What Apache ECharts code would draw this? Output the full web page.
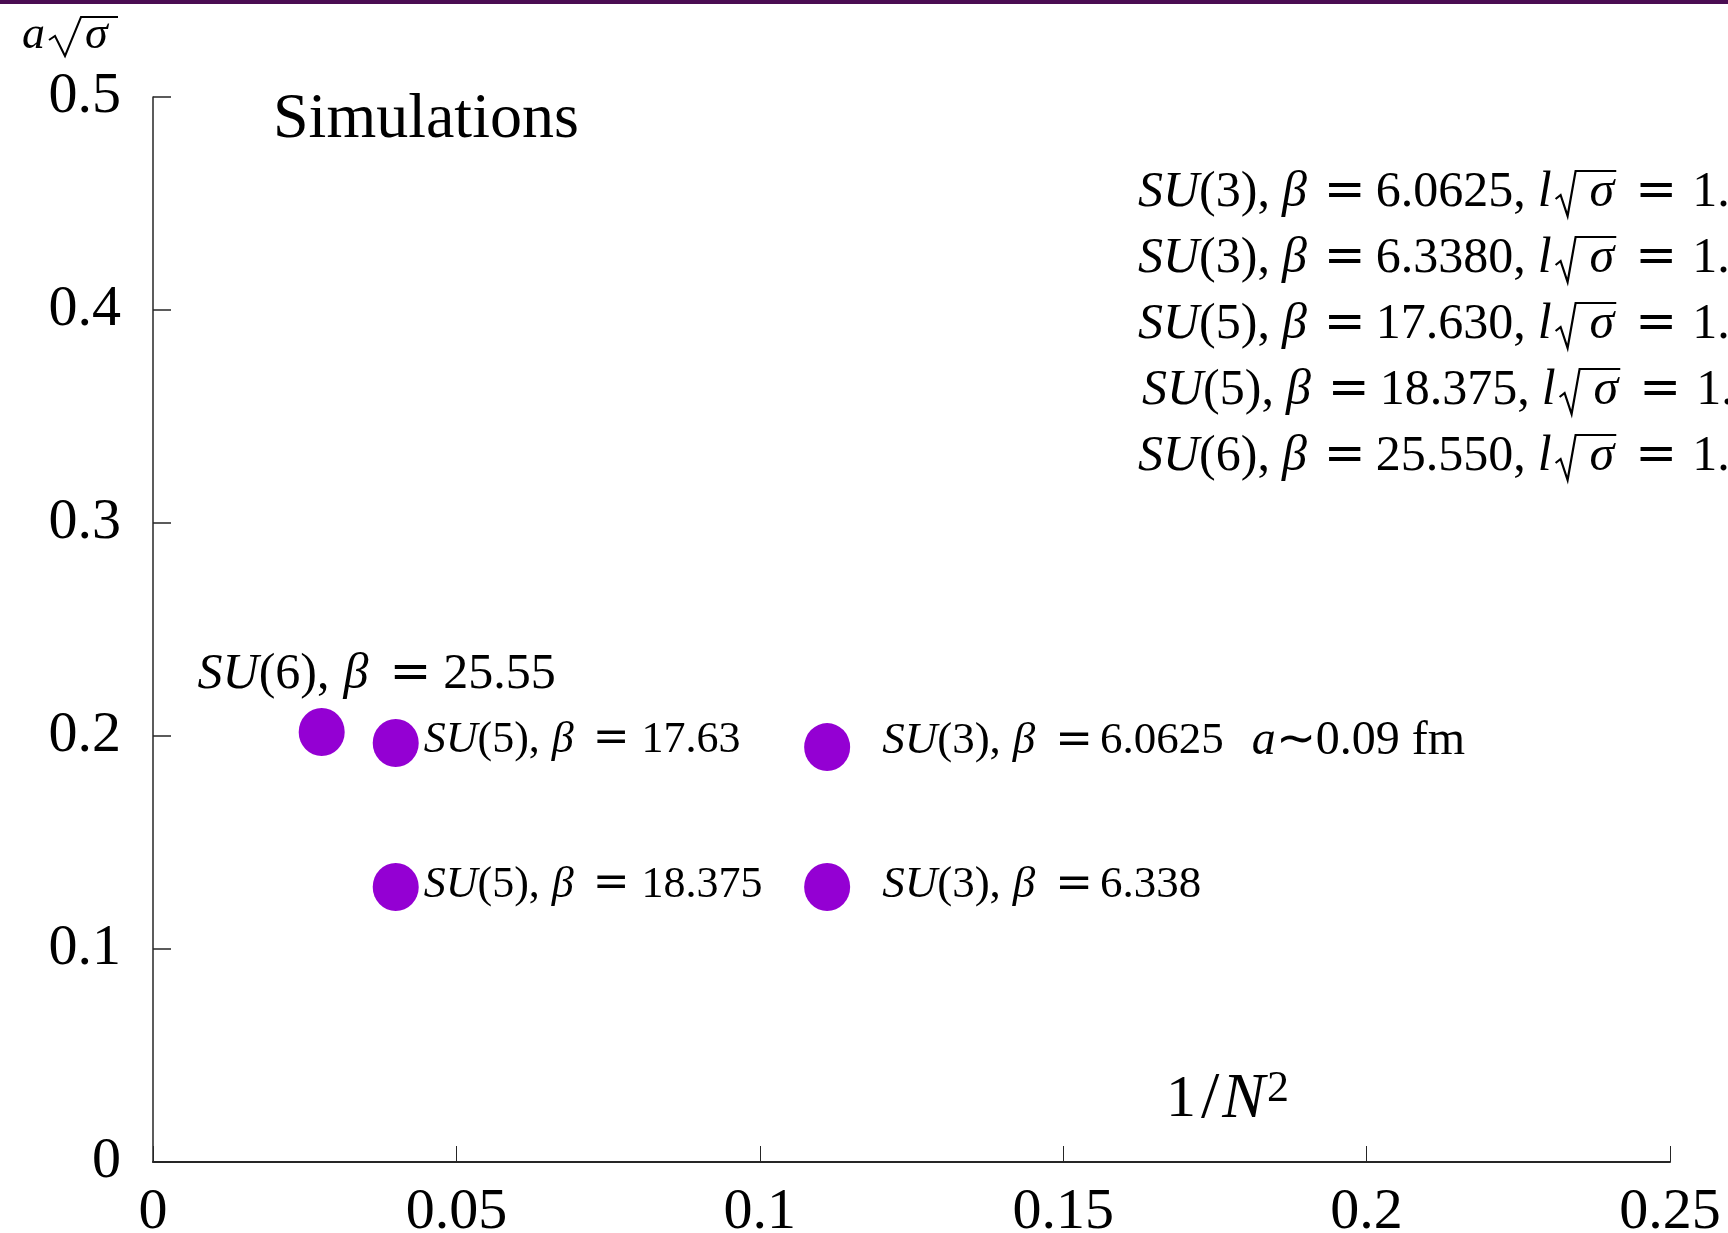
<!DOCTYPE html>
<html>
<head>
<meta charset="utf-8">
<script src="https://cdn.jsdelivr.net/npm/echarts@6/dist/echarts.min.js"></script>
<style>
html,body{margin:0;padding:0;background:#fff;}
#chart{width:1728px;height:1233px;}
</style>
</head>
<body>
<div id="chart"></div>
<script>
// ---- data ----
const xValues = [0.0278, 0.04, 0.04, 0.1111, 0.1111];          // 1/N^2
const yValues = [0.2019, 0.1967, 0.1291, 0.1948, 0.1291];      // a*sqrt(sigma)
const pointGroups = ['6', '5', '5', '3', '3'];
const pointBetas = ['25.55', '17.63', '18.375', '6.0625', '6.338'];
const pointExtra = ['', '', '', '∼0.09 fm', ''];

const cornerGroups = ['3', '3', '5', '5', '6'];
const cornerBetas = ['6.0625', '6.3380', '17.630', '18.375', '25.550'];
const cornerL = ['1.9', '1.6', '1.9', '1.9', '1.9'];

const xTicks = [0, 0.05, 0.1, 0.15, 0.2, 0.25];
const yTicks = [0, 0.1, 0.2, 0.3, 0.4, 0.5];

const MATH = 'Liberation Serif';
const EQF = 'DejaVu Serif';
const AX = '#262626';
const PURPLE = '#9400D3';

const chart = echarts.init(document.getElementById('chart'));

// ---- rich-text helper: tokens [kind, text, targetStart] ----
const mctx = document.createElement('canvas').getContext('2d');
function kindStyle(kind, size) {
  if (kind === 'i') return {fontFamily: MATH, fontStyle: 'italic', fontSize: size};
  if (kind === 'e') return {fontFamily: EQF, fontSize: size};
  if (kind === 't') return {fontFamily: MATH, fontSize: Math.round(size * 48 / 45)};
  if (kind === 'j') return {fontFamily: MATH, fontStyle: 'italic', fontSize: Math.round(size * 48 / 45)};
  return {fontFamily: MATH, fontSize: size};
}
function measure(kind, size, txt) {
  const s = kindStyle(kind, size);
  mctx.font = (s.fontStyle ? 'italic ' : '') + s.fontSize + 'px "' + s.fontFamily + '"';
  return mctx.measureText(txt).width;
}
function buildRich(tokens, size, x0) {
  x0 = x0 || 0;
  const rich = {};
  let text = '';
  let xx = x0;
  const pos = [];
  tokens.forEach(([k, t, target]) => {
    let pad = 0;
    if (target !== undefined) pad = Math.max(0, Math.round(x0 + target - xx));
    const name = k + '_' + pad;
    if (!rich[name]) rich[name] = Object.assign({color: '#000', padding: [0, 0, 0, pad]}, kindStyle(k, size));
    text += '{' + name + '|' + t + '}';
    const start = xx + pad;
    const w = measure(k, size, t);
    pos.push({start: start, end: start + w});
    xx = start + w;
  });
  return {text, rich, pos};
}

// ---- point labels ----
const labelFont = [50, 44, 44, 45, 45];
const labelNumAt = [216, 218, 218, 213, 213];
function pointTokens(idx) {
  const s = labelFont[idx] / 44;
  const t = [
    ['i', 'SU'], ['n', '(' + pointGroups[idx] + '),'],
    ['i', 'β', 128 * s], ['e', '=', 169 * s], ['n', pointBetas[idx], labelNumAt[idx] * s]
  ];
  if (pointExtra[idx]) { t.push(['j', 'a', 370]); t.push(['t', pointExtra[idx]]); }
  return t;
}
const labelPlacement = [
  {position: 'top', distance: 8, offset: [55, 0]},
  {position: 'right', distance: 5, offset: [0, -3]},
  {position: 'right', distance: 5, offset: [0, -2]},
  {position: 'right', distance: 32, offset: [0, -6]},
  {position: 'right', distance: 32, offset: [0, -2]}
];
const seriesData = xValues.map((x, i) => {
  const r = buildRich(pointTokens(i), labelFont[i]);
  return {
    value: [x, yValues[i]],
    label: Object.assign({show: true, color: '#000', formatter: r.text, rich: r.rich}, labelPlacement[i])
  };
});

// ---- corner block ----
const CS = 50;
const cornerGraphics = [];
cornerGroups.forEach((g, i) => {
  const x0 = i === 3 ? 1142 : 1138;
  const yc = 193 + i * 66;
  const toks = [
    ['i', 'SU'], ['n', '(' + g + '),'], ['i', 'β', 144], ['e', '=', 186], ['n', cornerBetas[i] + ',', 238],
    ['i', 'l', 400], ['i', 'σ', 452], ['e', '=', 497], ['n', cornerL[i], 554]
  ];
  const r = buildRich(toks, CS, x0);
  cornerGraphics.push({
    type: 'text', x: x0, y: yc,
    style: {text: r.text, rich: r.rich, verticalAlign: 'middle', align: 'left'}
  });
  const xs = r.pos[6].start, xe = r.pos[6].end;
  cornerGraphics.push({
    type: 'polyline',
    shape: {points: [[xs - 34, yc + 6], [xs - 29, yc + 2], [xs - 22, yc + 23], [xs - 14, yc - 22], [xe + 2, yc - 22]]},
    style: {stroke: '#000', lineWidth: 2.2, fill: null, lineJoin: 'miter'}
  });
});

const option = {
  backgroundColor: '#ffffff',
  animation: false,
  grid: {left: 153, right: 58, top: 97, bottom: 71, containLabel: false, outerBoundsMode: 'none'},
  xAxis: {
    type: 'value', min: 0, max: 0.25, interval: 0.05,
    axisLine: {show: true, lineStyle: {color: AX, width: 2}},
    axisTick: {show: true, inside: true, length: 16, lineStyle: {color: AX, width: 1}},
    axisLabel: {
      margin: 22, fontFamily: 'Liberation Serif', fontSize: 58, color: '#000',
      formatter: (v) => { const k = xTicks.find(t => Math.abs(t - v) < 1e-9); return String(k !== undefined ? k : v); }
    },
    splitLine: {show: false}
  },
  yAxis: {
    type: 'value', min: 0, max: 0.5, interval: 0.1,
    axisLine: {show: true, lineStyle: {color: AX, width: 1.5}},
    axisTick: {show: true, inside: true, length: 18, lineStyle: {color: AX, width: 1.5}},
    axisLabel: {
      margin: 32, fontFamily: 'Liberation Serif', fontSize: 58, color: '#000',
      formatter: (v) => { const k = yTicks.find(t => Math.abs(t - v) < 1e-9); return String(k !== undefined ? k : v); }
    },
    splitLine: {show: false}
  },
  series: [{
    type: 'scatter',
    symbol: 'circle',
    symbolSize: [46, 48],
    itemStyle: {color: PURPLE, opacity: 1},
    emphasis: {disabled: true},
    data: seriesData
  }],
  graphic: [
    {type: 'rect', shape: {x: 0, y: 0, width: 1728, height: 4}, style: {fill: '#4a0d52'}},
    {type: 'text', x: 273, y: 120, style: {text: 'Simulations', font: '64px "Liberation Serif"', fill: '#000', verticalAlign: 'middle'}},
    // y-axis name  a sqrt(sigma)
    {type: 'text', x: 22, y: 36, style: {text: 'a', font: 'italic 46px "Liberation Serif"', fill: '#000', verticalAlign: 'middle'}},
    {type: 'polyline', shape: {points: [[49, 40], [55, 36], [65, 56], [81, 17], [118, 17]]}, style: {stroke: '#000', lineWidth: 2, fill: null}},
    {type: 'text', x: 85, y: 36, style: {text: 'σ', font: 'italic 46px "Liberation Serif"', fill: '#000', verticalAlign: 'middle'}},
    // x-axis name 1/N^2
    {type: 'text', x: 1166, y: 1100, style: {
      text: '{n|1}{sl|/}{i|N}{s|2}',
      rich: {
        i: {fontFamily: MATH, fontStyle: 'italic', fontSize: 64, color: '#000', padding: [0, 2, 0, 0]},
        n: {fontFamily: MATH, fontSize: 60, color: '#000'},
        sl: {fontFamily: MATH, fontSize: 66, color: '#000', padding: [0, 3, 0, 5]},
        s: {fontFamily: MATH, fontSize: 44, color: '#000', verticalAlign: 'top'}
      },
      verticalAlign: 'middle'
    }}
  ].concat(cornerGraphics)
};

chart.setOption(option);
</script>
</body>
</html>
